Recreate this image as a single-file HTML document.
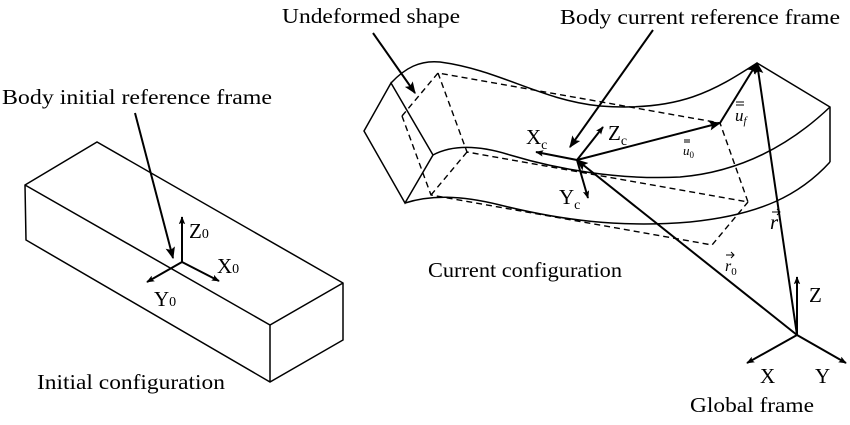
<!DOCTYPE html>
<html><head><style>
html,body{margin:0;padding:0;background:#fff;}
svg text{font-family:"Liberation Serif",serif;fill:#000;}
</style></head><body>
<svg width="850" height="420" viewBox="0 0 850 420" xmlns="http://www.w3.org/2000/svg">
<defs>
<marker id="a" viewBox="0 0 10 10" refX="9" refY="5" markerWidth="8" markerHeight="8" orient="auto" markerUnits="userSpaceOnUse">
<path d="M0,1 L10,5 L0,9 L2,5 z" fill="#000"/></marker>
<marker id="b" viewBox="0 0 10 10" refX="9" refY="5" markerWidth="12" markerHeight="12" orient="auto" markerUnits="userSpaceOnUse">
<path d="M0,1 L10,5 L0,9 L2,5 z" fill="#000"/></marker>
</defs>
<g stroke="#000" stroke-width="1.5" fill="none">
<path d="M25,185 L97,142 L343,283 L343,340 L270,382 L26,240 Z M25,185 L270,325 L343,283 M270,325 L270,382"/>
</g>
<g stroke="#000" stroke-width="2" fill="none">
<line x1="135" y1="113" x2="173" y2="258" marker-end="url(#b)"/>
<line x1="182" y1="262" x2="182" y2="217" marker-end="url(#a)"/>
<line x1="182" y1="262" x2="219" y2="281" marker-end="url(#a)"/>
<line x1="182" y1="262" x2="147" y2="282" marker-end="url(#a)"/>
</g>
<g stroke="#000" stroke-width="1.5" fill="none">
<path d="M391,83 L364,131 L405,203 L433,155 Z"/>
<path d="M391,83 C405,68 420,60 440,62 C500,70 540,100 600,106 C680,112 715,90 757,63"/>
<path d="M433,155 C450,146 475,144 510,155 C560,170 620,180 680,177 C740,172 790,145 830,107"/>
<path d="M405,203 C430,195 460,195 500,205 C560,220 620,228 690,222 C760,215 800,195 830,162"/>
<path d="M757,63 L830,107 L830,162"/>
</g>
<g stroke="#000" stroke-width="1.4" fill="none" stroke-dasharray="6,4">
<path d="M402,116 L438,73 L720,123 L748,202 L467,152 L438,73 M402,116 L431,195 L712,245 L748,202 M431,195 L467,152"/>
</g>
<g stroke="#000" stroke-width="2" fill="none">
<line x1="373" y1="33" x2="415" y2="93" marker-end="url(#b)"/>
<line x1="653" y1="30" x2="570" y2="147" marker-end="url(#b)"/>
<line x1="577" y1="160" x2="536" y2="152" marker-end="url(#a)"/>
<line x1="577" y1="160" x2="603" y2="127" marker-end="url(#a)"/>
<line x1="577" y1="160" x2="588" y2="198" marker-end="url(#a)"/>
<line x1="577" y1="160" x2="720" y2="123" marker-end="url(#b)"/>
<line x1="720" y1="123" x2="757" y2="63" marker-end="url(#b)"/>
<line x1="797" y1="335" x2="577" y2="160" marker-end="url(#b)"/>
<line x1="797" y1="335" x2="757" y2="63" marker-end="url(#b)"/>
<line x1="797" y1="335" x2="797" y2="277" marker-end="url(#a)"/>
<line x1="797" y1="335" x2="747" y2="363" marker-end="url(#a)"/>
<line x1="797" y1="335" x2="846" y2="363" marker-end="url(#a)"/>
</g>
<g font-size="21">
<text x="2" y="104" textLength="270" lengthAdjust="spacingAndGlyphs">Body initial reference frame</text>
<text x="37" y="389" textLength="188" lengthAdjust="spacingAndGlyphs">Initial configuration</text>
<text x="282" y="23" textLength="178" lengthAdjust="spacingAndGlyphs">Undeformed shape</text>
<text x="560" y="24" textLength="280" lengthAdjust="spacingAndGlyphs">Body current reference frame</text>
<text x="428" y="277" textLength="194" lengthAdjust="spacingAndGlyphs">Current configuration</text>
<text x="690" y="412" textLength="124" lengthAdjust="spacingAndGlyphs">Global frame</text>
<text x="189" y="238">Z<tspan font-size="14">0</tspan></text>
<text x="217" y="273">X<tspan font-size="14">0</tspan></text>
<text x="154" y="306">Y<tspan font-size="14">0</tspan></text>
<text x="526" y="144">X<tspan font-size="14" dy="5">c</tspan></text>
<text x="608" y="140">Z<tspan font-size="14" dy="5">c</tspan></text>
<text x="559" y="204">Y<tspan font-size="14" dy="5">c</tspan></text>
<text x="809" y="302">Z</text>
<text x="760" y="383">X</text>
<text x="815" y="383">Y</text>
<text x="770" y="229" font-style="italic">r</text>
<text x="725" y="271" font-size="16" font-style="italic">r<tspan font-size="11" dy="4" font-style="normal">0</tspan></text>
<text x="735" y="121" font-size="17" font-style="italic">u<tspan font-size="11" dy="3">f</tspan></text>
<text x="683" y="155" font-size="13" font-style="italic">u<tspan font-size="9" dy="3" font-style="normal">0</tspan></text>
</g>
<g stroke="#000" stroke-width="1" fill="none">
<path d="M772,212 L780,212 M777,209 L780,212 L777,215"/>
<path d="M726,255 L734,255 M731,252 L734,255 L731,258"/>
<path d="M736,105 L744,105 M736,102 L744,102"/>
<path d="M684,142 L690,142 M684,140 L690,140"/>
</g>
</svg>
</body></html>
